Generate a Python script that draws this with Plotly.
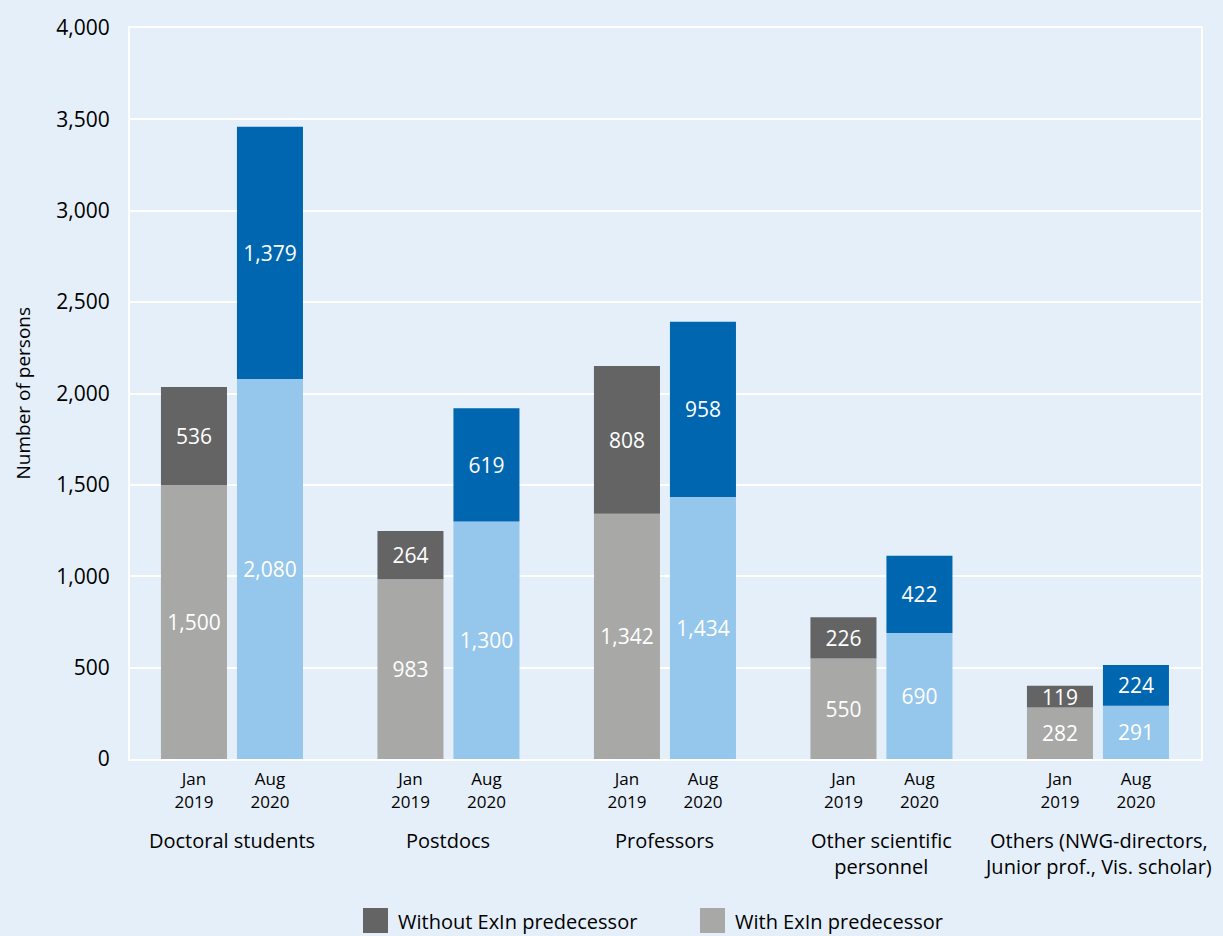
import plotly.graph_objects as go

# Staff groups and the two reference dates
groups = [
    "Doctoral students",
    "Postdocs",
    "Professors",
    "Other scientific<br>personnel",
    "Others (NWG-directors,<br>Junior prof., Vis. scholar)",
]
dates = ["Jan<br>2019", "Aug<br>2020"]

# Number of persons with / without an ExIn predecessor
with_jan2019 = [1500, 983, 1342, 550, 282]
without_jan2019 = [536, 264, 808, 226, 119]
with_aug2020 = [2080, 1300, 1434, 690, 291]
without_aug2020 = [1379, 619, 958, 422, 224]

legend_labels = ["Without ExIn predecessor", "With ExIn predecessor"]

# Colours
BG = "#e5eff9"
DARK_GREY = "#646464"
LIGHT_GREY = "#a8a8a7"
DARK_BLUE = "#0066b0"
LIGHT_BLUE = "#95c6eb"
FONT = "Open Sans"

# Layout of bars within each group (in axis units, one unit per group)
OFFSET = 0.1755
BAR_W = 0.305
idx = list(range(len(groups)))
x_jan = [g - OFFSET for g in idx]
x_aug = [g + OFFSET for g in idx]


def fmt(v):
    return f"{v:,}"


def bar(x, y, base, color):
    return go.Bar(
        x=x,
        y=y,
        base=base,
        width=BAR_W,
        marker=dict(color=color, line=dict(width=0)),
        text=[fmt(v) for v in y],
        textposition="inside",
        insidetextanchor="middle",
        constraintext="none",
        textangle=0,
        textfont=dict(family=FONT, size=21, color="white"),
        showlegend=False,
        hoverinfo="skip",
    )


fig = go.Figure()
fig.add_trace(bar(x_jan, with_jan2019, [0] * len(idx), LIGHT_GREY))
fig.add_trace(bar(x_jan, without_jan2019, with_jan2019, DARK_GREY))
fig.add_trace(bar(x_aug, with_aug2020, [0] * len(idx), LIGHT_BLUE))
fig.add_trace(bar(x_aug, without_aug2020, with_aug2020, DARK_BLUE))

fig.update_layout(
    width=1223,
    height=936,
    paper_bgcolor=BG,
    plot_bgcolor=BG,
    margin=dict(l=130, r=22, t=28, b=177),
    barmode="overlay",
    font=dict(family=FONT, color="black"),
)

fig.update_xaxes(
    range=[-0.471, 4.476],
    tickvals=x_jan + x_aug,
    ticktext=[dates[0]] * len(idx) + [dates[1]] * len(idx),
    tickfont=dict(family=FONT, size=17, color="black"),
    showgrid=False,
    zeroline=False,
    showline=True,
    linecolor="white",
    linewidth=2,
    mirror=True,
    ticks="",
    ticklabelstandoff=4,
)

fig.update_yaxes(
    range=[0, 4000],
    dtick=500,
    tickformat=",",
    tickfont=dict(family=FONT, size=21, color="black"),
    showgrid=True,
    gridcolor="white",
    gridwidth=2,
    zeroline=False,
    showline=True,
    linecolor="white",
    linewidth=2,
    mirror=True,
    ticks="",
    ticklabelstandoff=14,
)

# Group names below the date labels
for g, name in zip(idx, groups):
    fig.add_annotation(
        x=g, y=0, xref="x", yref="paper",
        text=name, showarrow=False,
        xanchor="center", yanchor="top", yshift=-66,
        font=dict(family=FONT, size=20, color="black"),
        align="center",
    )

# Y-axis title
fig.add_annotation(
    x=0, y=0.5, xref="paper", yref="paper",
    text="Number of persons", showarrow=False, textangle=-90,
    xanchor="center", yanchor="middle", xshift=-108,
    font=dict(family=FONT, size=19, color="black"),
)

# Legend: square swatches with labels
legend_items = [(legend_labels[0], DARK_GREY, 363), (legend_labels[1], LIGHT_GREY, 700)]
for label, color, px in legend_items:
    fig.add_shape(
        type="rect", xref="paper", yref="paper",
        x0=(px - 130) / 1071, x1=(px + 25 - 130) / 1071,
        y0=-(908 - 759) / 731, y1=-(933 - 759) / 731,
        fillcolor=color, line=dict(width=0),
    )
    fig.add_annotation(
        x=(px + 33 - 130) / 1071, y=-(921 - 759) / 731,
        xref="paper", yref="paper", text=label, showarrow=False,
        xanchor="left", yanchor="middle",
        font=dict(family=FONT, size=20, color="black"),
    )

fig.write_html("out.html")
